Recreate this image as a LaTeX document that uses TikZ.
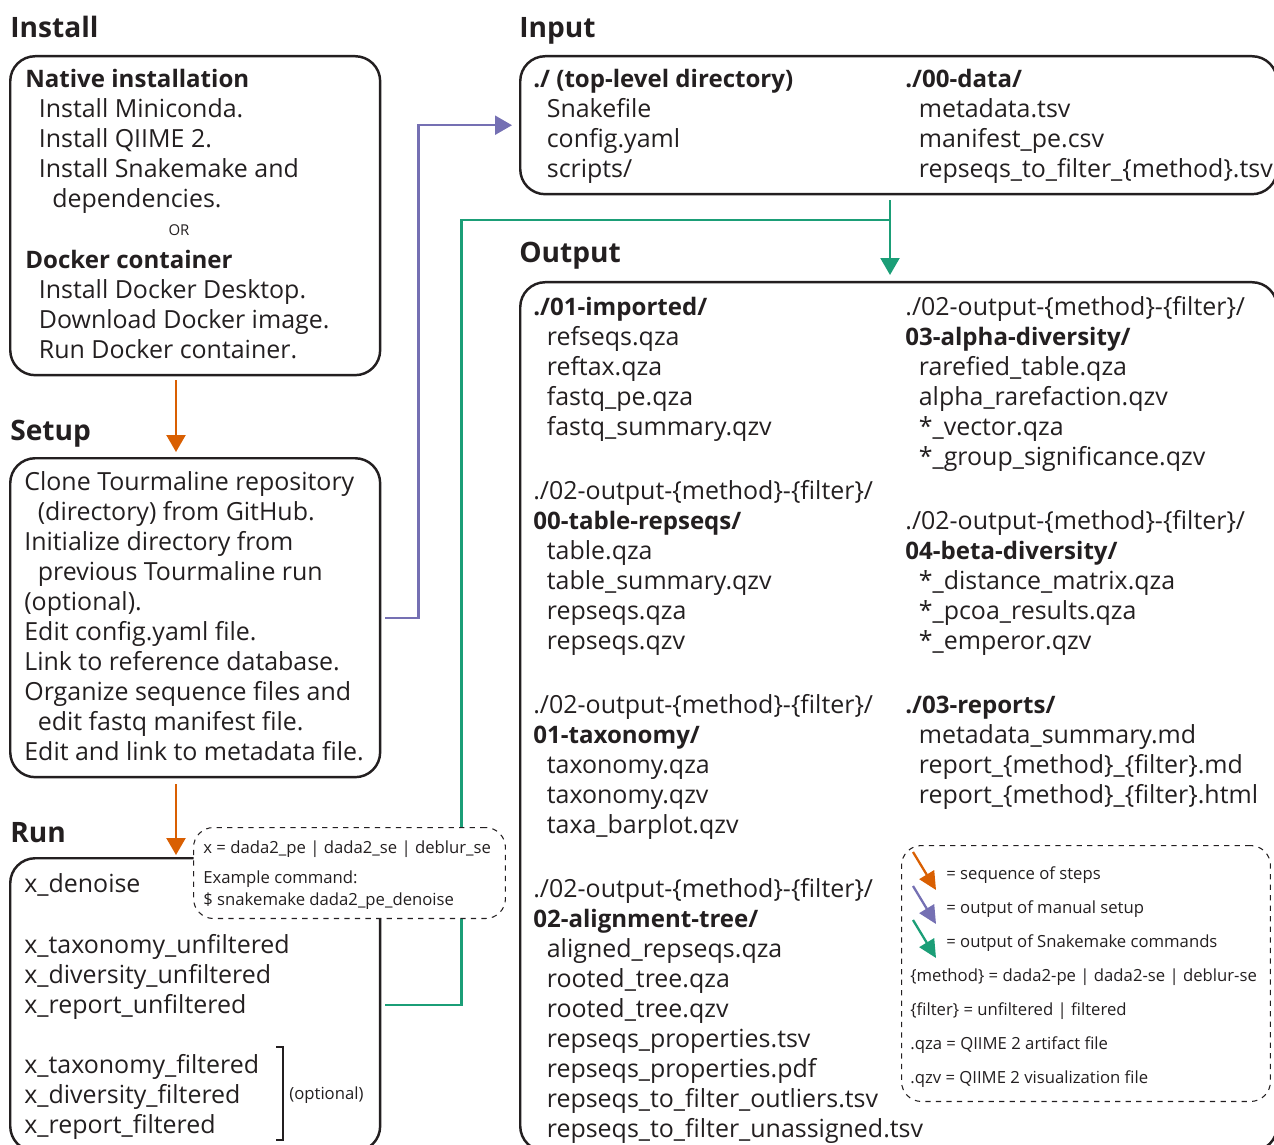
\documentclass[tikz,border=0pt]{standalone}
\usepackage{fontspec}
\setmainfont{Open Sans}
\usepackage{xcolor}
\usetikzlibrary{positioning,%
  arrows.meta,%
  calc}

\definecolor{seqorange}{HTML}{D95F02}
\definecolor{manpurple}{HTML}{7570B3}
\definecolor{snkgreen}{HTML}{1B9E77}
\definecolor{ink}{HTML}{231F20}

\newcommand{\ind}{\hspace*{0.27cm}}
\newcommand{\dirname}[1]{{\fontsize{13.7}{17.1}\selectfont\bfseries #1}}

\begin{document}
\begin{tikzpicture}
                    [x=0.02cm, y=-0.02cm,
                    box/.style={draw=ink, line width=1.4pt,
                        rounded corners=0.5cm, inner sep=0pt,
                        anchor=north west},
                    notebox/.style={draw=ink, dashed, line width=0.6pt,
                        rounded corners=0.4cm, inner sep=0pt,
                        fill=white, anchor=north west},
                    head/.style={font=\fontsize{16}{20}\selectfont\bfseries,
                        text=ink, inner sep=0pt, anchor=base west},
                    txt/.style={font=\fontsize{14.2}{17.1}\selectfont,
                        text=ink, align=left, inner sep=0pt,
                        anchor=north west},
                    small/.style={font=\fontsize{9.5}{12.5}\selectfont,
                        text=ink, align=left, inner sep=0pt,
                        anchor=base west},
                    flow/.style={line width=1.3pt,
                        -{Triangle[width=0.38cm, length=0.34cm]}},
                    seq/.style={flow, draw=seqorange},
                    man/.style={flow, draw=manpurple},
                    snk/.style={flow, draw=snkgreen},
                    key/.style={line width=1.3pt,
                        -{Triangle[width=0.34cm, length=0.36cm]}}]

                    \useasboundingbox (0,0) rectangle (1274,1145);

                    % boxes
                    \node[box, minimum width=7.4cm, minimum height=6.38cm]
                        (install) at (9,55) {};
                    \node[box, minimum width=7.4cm, minimum height=6.38cm]
                        (setup) at (9,457) {};
                    \node[box, minimum width=7.4cm, minimum height=5.86cm]
                        (run) at (9,857) {};
                    \node[box, minimum width=15.14cm, minimum height=2.76cm]
                        (input) at (519,55) {};
                    \node[box, minimum width=15.14cm, minimum height=17.38cm]
                        (output) at (519,281) {};

                    % headings
                    \node[head] (insthead) at (10,38) {Install};
                    \node[head] (setuphead) at (10,440) {Setup};
                    \node[head] (runhead) at (10,842) {Run};
                    \node[head] (inhead) at (519,38) {Input};
                    \node[head] (outhead) at (519,263) {Output};

                    % connectors
                    \coordinate (jn) at (890,220);
                    \draw[seq, shorten <=0.08cm, shorten >=0.1cm]
                        ($(install.south west)+(167,0)$)
                        -- ($(setup.north west)+(167,0)$);
                    \draw[seq, shorten <=0.12cm, shorten >=0.04cm]
                        ($(setup.south west)+(167,0)$)
                        -- ($(run.north west)+(167,0)$);
                    \draw[man, shorten <=0.08cm, shorten >=0.14cm]
                        (setup.east) -- ++(37,0) |- (input.west);
                    \draw[snk, shorten <=0.1cm, shorten >=0.12cm]
                        (jn |- input.south) -- (jn |- output.north);
                    \draw[snkgreen, line width=1.3pt, shorten <=0.08cm]
                        (run.east) -- ++(80,0) |- (jn);

                    % install
                    \node[txt] (native) at (25,66)
                        {\strut\dirname{Native installation}\\
                         \ind Install Miniconda.\\
                         \ind Install QIIME 2.\\
                         \ind Install Snakemake and\\
                         \ind\ind dependencies.};
                    \node[small, font=\fontsize{8.5}{10}\selectfont,
                        anchor=base] (or) at (179,236) {OR};
                    \node[txt] (docker) at (25,247)
                        {\strut\dirname{Docker container}\\
                         \ind Install Docker Desktop.\\
                         \ind Download Docker image.\\
                         \ind Run Docker container.};

                    % setup
                    \node[txt] (steps) at (24,469)
                        {\strut Clone Tourmaline repository\\
                         \ind (directory) from GitHub.\\
                         Initialize directory from\\
                         \ind previous Tourmaline run\\
                         (optional).\\
                         Edit config.yaml file.\\
                         Link to reference database.\\
                         Organize sequence files and\\
                         \ind edit fastq manifest file.\\
                         Edit and link to metadata file.};

                    % run
                    \node[txt] (denoise) at (24,871) {\strut x\_denoise};
                    \node[txt] (unfilt) at (24,932)
                        {\strut x\_taxonomy\_unfiltered\\
                         x\_diversity\_unfiltered\\
                         x\_report\_unfiltered};
                    \node[txt] (filt) at (24,1052)
                        {\strut x\_taxonomy\_filtered\\
                         x\_diversity\_filtered\\
                         x\_report\_filtered};
                    \draw[ink, line width=0.6pt]
                        (276,1047) -- (283,1047) -- (283,1140) -- (276,1140);
                    \node[small] (opt) at (289,1099) {(optional)};

                    % note on the run box
                    \node[notebox, minimum width=6.24cm, minimum height=1.82cm]
                        (note) at (193,827) {};
                    \node[small] (xval) at (203,853)
                        {x = dada2\_pe | dada2\_se | deblur\_se};
                    \node[small] (example) at (203,883)
                        {Example command:};
                    \node[small] (command) at (203,905)
                        {\$ snakemake dada2\_pe\_denoise};

                    % input
                    \node[txt] (toplevel) at (533,66)
                        {\strut\dirname{./ (top-level directory)}\\
                         \ind Snakefile\\
                         \ind config.yaml\\
                         \ind scripts/};
                    \node[txt] (data) at (905,66)
                        {\strut\dirname{./00-data/}\\
                         \ind metadata.tsv\\
                         \ind manifest\_pe.csv\\
                         \ind repseqs\_to\_filter\_\{method\}.tsv};

                    % output, left
                    \node[txt] (imported) at (533,294)
                        {\strut\dirname{./01-imported/}\\
                         \ind refseqs.qza\\
                         \ind reftax.qza\\
                         \ind fastq\_pe.qza\\
                         \ind fastq\_summary.qzv};
                    \node[txt] (tablerep) at (533,478)
                        {\strut ./02-output-\{method\}-\{filter\}/\\
                         \dirname{00-table-repseqs/}\\
                         \ind table.qza\\
                         \ind table\_summary.qzv\\
                         \ind repseqs.qza\\
                         \ind repseqs.qzv};
                    \node[txt] (taxonomy) at (533,692)
                        {\strut ./02-output-\{method\}-\{filter\}/\\
                         \dirname{01-taxonomy/}\\
                         \ind taxonomy.qza\\
                         \ind taxonomy.qzv\\
                         \ind taxa\_barplot.qzv};
                    \node[txt] (alignment) at (533,876)
                        {\strut ./02-output-\{method\}-\{filter\}/\\
                         \dirname{02-alignment-tree/}\\
                         \ind aligned\_repseqs.qza\\
                         \ind rooted\_tree.qza\\
                         \ind rooted\_tree.qzv\\
                         \ind repseqs\_properties.tsv\\
                         \ind repseqs\_properties.pdf\\
                         \ind repseqs\_to\_filter\_outliers.tsv\\
                         \ind repseqs\_to\_filter\_unassigned.tsv};

                    % output, right
                    \node[txt] (alpha) at (905,294)
                        {\strut ./02-output-\{method\}-\{filter\}/\\
                         \dirname{03-alpha-diversity/}\\
                         \ind rarefied\_table.qza\\
                         \ind alpha\_rarefaction.qzv\\
                         \ind *\_vector.qza\\
                         \ind *\_group\_significance.qzv};
                    \node[txt] (beta) at (905,508)
                        {\strut ./02-output-\{method\}-\{filter\}/\\
                         \dirname{04-beta-diversity/}\\
                         \ind *\_distance\_matrix.qza\\
                         \ind *\_pcoa\_results.qza\\
                         \ind *\_emperor.qzv};
                    \node[txt] (reports) at (905,692)
                        {\strut\dirname{./03-reports/}\\
                         \ind metadata\_summary.md\\
                         \ind report\_\{method\}\_\{filter\}.md\\
                         \ind report\_\{method\}\_\{filter\}.html};

                    % legend
                    \node[notebox, minimum width=7.38cm, minimum height=5.12cm]
                        (legend) at (901,845) {};
                    \coordinate (ko1) at (913,852);
                    \coordinate (ko2) at (936,890);
                    \coordinate (kp1) at (913,886);
                    \coordinate (kp2) at (936,924);
                    \coordinate (kg1) at (913,920);
                    \coordinate (kg2) at (936,958);
                    \draw[key, seqorange] (ko1) -- (ko2);
                    \draw[key, manpurple] (kp1) -- (kp2);
                    \draw[key, snkgreen] (kg1) -- (kg2);
                    \node[small] (kseq) at (946,879) {= sequence of steps};
                    \node[small] (kman) at (946,913) {= output of manual setup};
                    \node[small] (ksnk) at (946,947)
                        {= output of Snakemake commands};
                    \node[small] (kmeth) at (910,981)
                        {\{method\} = dada2-pe | dada2-se | deblur-se};
                    \node[small] (kfilt) at (910,1015)
                        {\{filter\} = unfiltered | filtered};
                    \node[small] (kqza) at (910,1049)
                        {.qza = QIIME 2 artifact file};
                    \node[small] (kqzv) at (910,1083)
                        {.qzv = QIIME 2 visualization file};
                \end{tikzpicture}
\end{document}
